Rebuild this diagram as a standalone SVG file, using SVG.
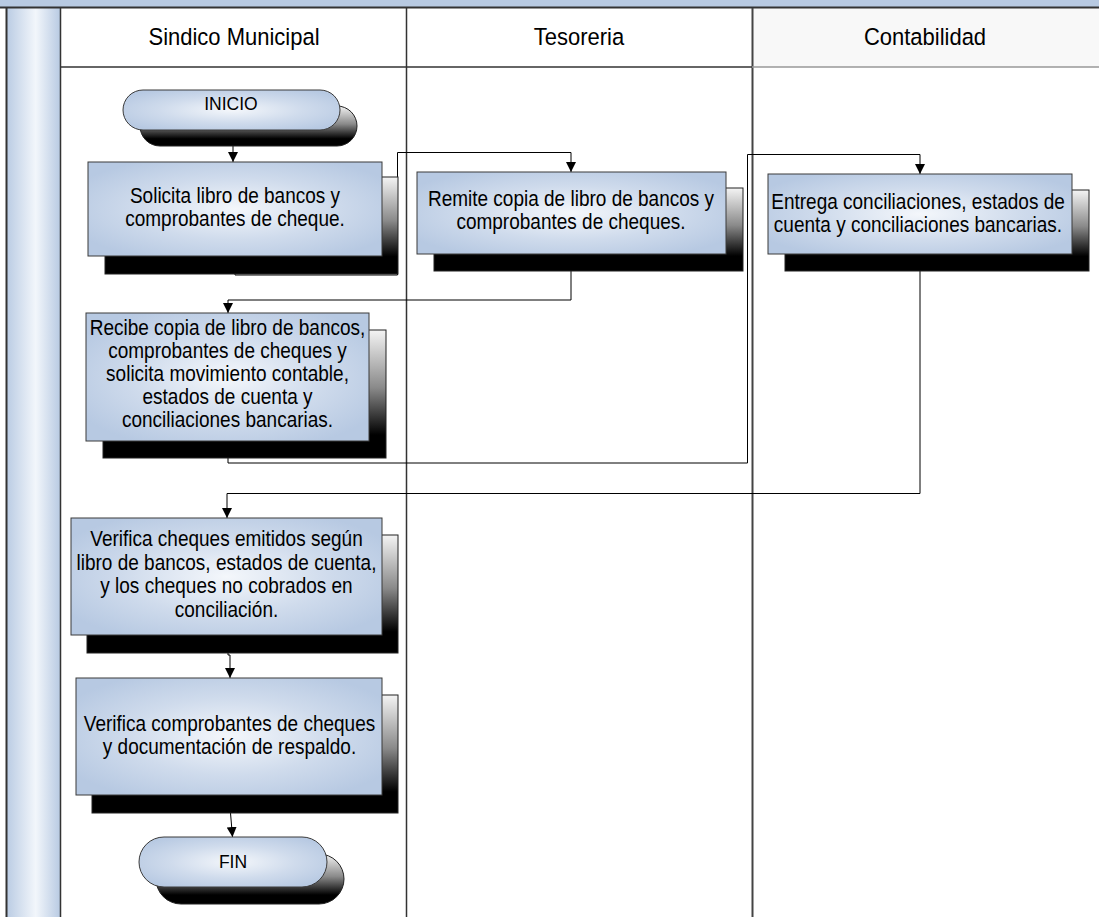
<svg xmlns="http://www.w3.org/2000/svg" width="1099" height="917" viewBox="0 0 1099 917">
  <style>
    .lane { fill: none; stroke: #333; stroke-width: 1.5; }
    .hdr { font-family: "Liberation Sans", Arial, sans-serif; font-size: 22px; fill: #000; text-anchor: middle; }
    .lbl { font-family: "Liberation Sans", Arial, sans-serif; font-size: 19px; fill: #000; text-anchor: middle; }
    .term { font-family: "Liberation Sans", Arial, sans-serif; font-size: 17.5px; fill: #000; text-anchor: middle; }
    .box { fill: url(#boxFill); stroke: #3a3a3a; stroke-width: 1; }
    .shadow { fill: url(#shadowFill); stroke: #222; stroke-width: 1; }
    .conn { fill: none; stroke: #000; stroke-width: 1; marker-end: url(#arrow); }
  </style>
  <defs>
    <radialGradient id="boxFill" cx="0.5" cy="0.5" r="0.6">
      <stop offset="0" stop-color="#f4f7fb"/>
      <stop offset="0.55" stop-color="#cfdbec"/>
      <stop offset="1" stop-color="#b7c9e2"/>
    </radialGradient>
    <linearGradient id="shadowFill" x1="0" y1="0" x2="0" y2="1">
      <stop offset="0" stop-color="#f4f4f4"/>
      <stop offset="0.45" stop-color="#8a8a8a"/>
      <stop offset="0.82" stop-color="#000"/>
      <stop offset="1" stop-color="#000"/>
    </linearGradient>
    <linearGradient id="stripFill" x1="0" y1="0" x2="1" y2="0">
      <stop offset="0" stop-color="#b9cbe3"/>
      <stop offset="0.55" stop-color="#f2f6fb"/>
      <stop offset="1" stop-color="#b9cbe3"/>
    </linearGradient>
    <marker id="arrow" viewBox="0 0 10 10" refX="10" refY="5" markerWidth="10" markerHeight="10" markerUnits="userSpaceOnUse" orient="auto">
      <path d="M0,0 L10,5 L0,10 z" fill="#000"/>
    </marker>
  </defs>

  <!-- pool frame -->
  <rect x="0" y="0" width="1099" height="917" fill="#fff"/>
  <rect x="0" y="0" width="1099" height="7" fill="#b8cae2"/>
  <rect x="6" y="8" width="54" height="909" fill="url(#stripFill)"/>
  <rect x="752" y="8" width="347" height="59" fill="#f8f8f8"/>
  <line x1="0" y1="7.5" x2="1099" y2="7.5" stroke="#333" stroke-width="2"/>
  <line x1="6.5" y1="7" x2="6.5" y2="917" stroke="#333" stroke-width="2"/>
  <line x1="60.5" y1="8" x2="60.5" y2="917" class="lane"/>
  <line x1="406.5" y1="8" x2="406.5" y2="917" class="lane"/>
  <line x1="752.5" y1="8" x2="752.5" y2="917" stroke="#444" stroke-width="2"/>
  <line x1="60" y1="67" x2="752" y2="67" class="lane"/>
  <line x1="752" y1="67" x2="1099" y2="67" stroke="#999" stroke-width="1.5"/>

  <!-- lane headers -->
  <g id="lane-sindico"><text class="hdr" transform="translate(234,45) scale(1,1.08)">Sindico Municipal</text></g>
  <g id="lane-tesoreria"><text class="hdr" transform="translate(579,45) scale(1,1.08)">Tesoreria</text></g>
  <g id="lane-contabilidad"><text class="hdr" transform="translate(925,45) scale(1,1.08)">Contabilidad</text></g>

  <!-- connectors -->
  <g id="connectors">
    <path class="conn" d="M233,130 V162"/>
    <path class="conn" d="M235,256 V275 H397.5 V152.5 H571 V172"/>
    <path class="conn" d="M571,254 V300 H228 V313"/>
    <path class="conn" d="M228,441 V463 H747.5 V154.5 H920 V174"/>
    <path class="conn" d="M920,254 V493.5 H227 V518"/>
    <path class="conn" d="M228,635 V655 H230 V678"/>
    <path class="conn" d="M229,795 L232.5,837"/>
  </g>

  <!-- nodes -->
  <g id="inicio">
    <rect class="shadow" x="140" y="106" width="217" height="40" rx="20"/>
    <rect class="box" x="123" y="90" width="217" height="40" rx="20"/>
    <text class="term" x="231" y="109.5">INICIO</text>
  </g>

  <g id="solicita">
    <rect class="shadow" x="105" y="177" width="293" height="97"/>
    <rect class="box" x="88" y="162" width="294" height="94"/>
    <text class="lbl" transform="translate(235,203) scale(1,1.15)">Solicita libro de bancos y</text>
    <text class="lbl" transform="translate(235,226) scale(1,1.15)">comprobantes de cheque.</text>
  </g>

  <g id="remite">
    <rect class="shadow" x="434" y="188" width="309" height="83"/>
    <rect class="box" x="417" y="172" width="309" height="82"/>
    <text class="lbl" transform="translate(571,206) scale(1,1.15)">Remite copia de libro de bancos y</text>
    <text class="lbl" transform="translate(571,229) scale(1,1.15)">comprobantes de cheques.</text>
  </g>

  <g id="entrega">
    <rect class="shadow" x="785" y="190" width="304" height="81"/>
    <rect class="box" x="768" y="174" width="304" height="80"/>
    <text class="lbl" transform="translate(918,209) scale(1,1.15)">Entrega conciliaciones, estados de</text>
    <text class="lbl" transform="translate(918,232) scale(1,1.15)">cuenta y conciliaciones bancarias.</text>
  </g>

  <g id="recibe">
    <rect class="shadow" x="103" y="330" width="283" height="128"/>
    <rect class="box" x="86" y="313" width="283" height="128"/>
    <text class="lbl" transform="translate(227.5,335) scale(1,1.15)">Recibe copia de libro de bancos,</text>
    <text class="lbl" transform="translate(227.5,358) scale(1,1.15)">comprobantes de cheques y</text>
    <text class="lbl" transform="translate(227.5,381) scale(1,1.15)">solicita movimiento contable,</text>
    <text class="lbl" transform="translate(227.5,404) scale(1,1.15)">estados de cuenta y</text>
    <text class="lbl" transform="translate(227.5,427) scale(1,1.15)">conciliaciones bancarias.</text>
  </g>

  <g id="verifica-cheques">
    <rect class="shadow" x="87" y="535" width="311" height="118"/>
    <rect class="box" x="71" y="518" width="311" height="117"/>
    <text class="lbl" transform="translate(226.5,546) scale(1,1.15)">Verifica cheques emitidos según</text>
    <text class="lbl" transform="translate(226.5,569.5) scale(1,1.15)">libro de bancos, estados de cuenta,</text>
    <text class="lbl" transform="translate(226.5,593) scale(1,1.15)">y los cheques no cobrados en</text>
    <text class="lbl" transform="translate(226.5,616.5) scale(1,1.15)">conciliación.</text>
  </g>

  <g id="verifica-comprobantes">
    <rect class="shadow" x="92" y="695" width="306" height="118"/>
    <rect class="box" x="76" y="678" width="306" height="117"/>
    <text class="lbl" transform="translate(229.5,731) scale(1,1.15)">Verifica comprobantes de cheques</text>
    <text class="lbl" transform="translate(229.5,754) scale(1,1.15)">y documentación de respaldo.</text>
  </g>

  <g id="fin">
    <rect class="shadow" x="156" y="854" width="188" height="50" rx="25"/>
    <rect class="box" x="139" y="837" width="188" height="50" rx="25"/>
    <text class="term" x="233" y="868">FIN</text>
  </g>
</svg>
